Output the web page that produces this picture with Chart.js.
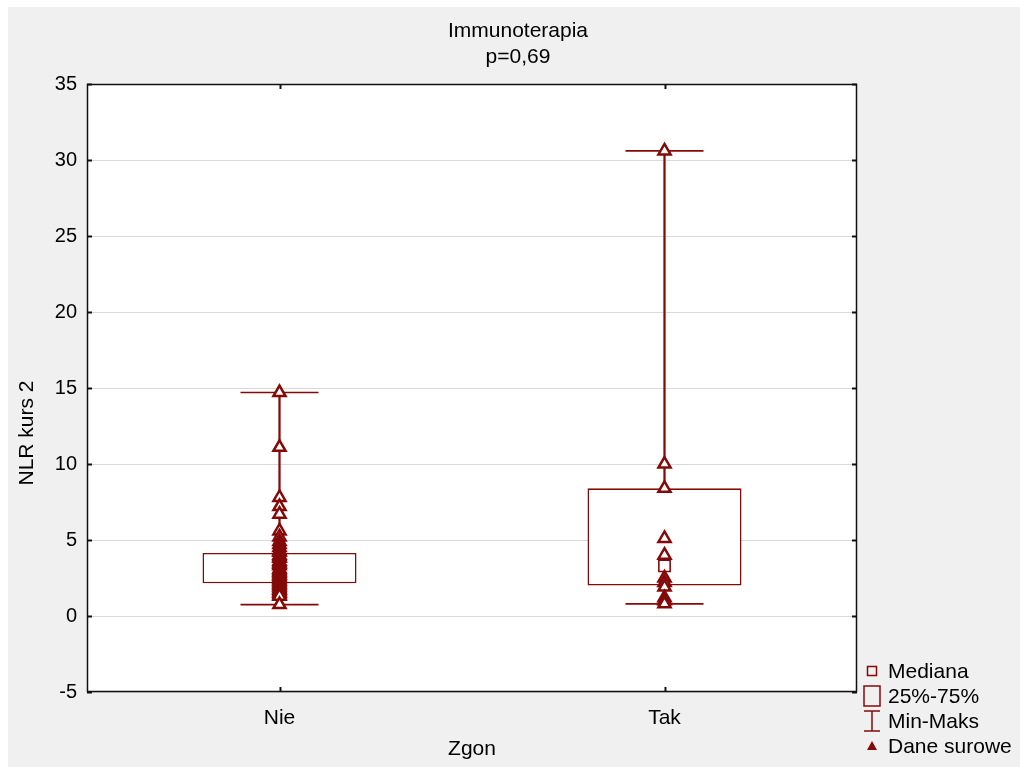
<!DOCTYPE html>
<html>
<head>
<meta charset="utf-8">
<script src="https://cdn.jsdelivr.net/npm/chart.js@4/dist/chart.umd.min.js"></script>
<style>
  html, body { margin: 0; padding: 0; background: #ffffff; }
  #wrap { position: relative; width: 1020px; height: 767px; }
</style>
</head>
<body>
<div id="wrap"><canvas id="c"></canvas></div>
<script>
// ---- data ----
const categories = ['Nie', 'Tak'];
const minVals = [0.75, 0.8];
const maxVals = [14.7, 30.6];
const q1Vals = [2.15, 2.0];
const q3Vals = [4.15, 8.4];
const medianVals = [2.9, 3.3];
const rawNie = [14.7, 11.1, 7.8, 7.2, 6.7, 5.6, 5.2, 4.9, 4.7, 4.5, 4.3, 4.2, 4.0, 3.9, 3.8, 3.6, 3.5, 3.4, 3.3, 3.1, 3.0, 2.9, 2.8, 2.7, 2.6, 2.5, 2.4, 2.3, 2.2, 2.1, 2.0, 1.9, 1.8, 1.7, 1.6, 1.5, 1.4, 1.3, 0.75];
const rawTak = [30.6, 10.0, 8.4, 5.1, 4.0, 2.5, 2.2, 1.9, 1.2, 1.0, 0.8];
const yMin = -5, yMax = 35, yStep = 5;
const titleLines = ['Immunoterapia', 'p=0,69'];
const xTitle = 'Zgon';
const yTitle = 'NLR kurs 2';
const legendLabels = ['Mediana', '25%-75%', 'Min-Maks', 'Dane surowe'];

const RED = '#840a0a';
const FONT = '"Liberation Sans", Arial, sans-serif';
const FS = 21;

const rawPoints = [];
rawNie.forEach(v => rawPoints.push({ x: categories[0], y: v }));
rawTak.forEach(v => rawPoints.push({ x: categories[1], y: v }));
const capPoints = [];
categories.forEach((c, i) => { capPoints.push({ x: c, y: minVals[i] }); capPoints.push({ x: c, y: maxVals[i] }); });
const medPoints = categories.map((c, i) => ({ x: c, y: medianVals[i] }));

const bgPlugin = {
  id: 'bg',
  beforeDraw(chart) {
    const ctx = chart.ctx;
    ctx.save();
    ctx.fillStyle = '#ffffff';
    ctx.fillRect(0, 0, chart.width, chart.height);
    ctx.fillStyle = '#f0f0f0';
    ctx.fillRect(8, 7, chart.width - 8, chart.height - 7);
    const a = chart.chartArea;
    ctx.fillStyle = '#ffffff';
    ctx.fillRect(a.left, a.top, a.right - a.left, a.bottom - a.top);
    ctx.restore();
  },
  afterDraw(chart) {
    const ctx = chart.ctx;
    const a = chart.chartArea;
    const ys = chart.scales.y, xs = chart.scales.x;
    ctx.save();
    // frame
    ctx.strokeStyle = '#111111';
    ctx.lineWidth = 1.5;
    ctx.strokeRect(a.left + 0.5, a.top + 0.5, a.right - a.left - 1, a.bottom - a.top - 1);
    // inner ticks
    ctx.lineWidth = 2;
    ctx.beginPath();
    ys.ticks.forEach(t => {
      const py = Math.round(ys.getPixelForValue(t.value)) + 0.5;
      ctx.moveTo(a.left, py); ctx.lineTo(a.left + 5, py);
      ctx.moveTo(a.right, py); ctx.lineTo(a.right - 5, py);
    });
    categories.forEach((c, i) => {
      const px = Math.round(xs.getPixelForValue(i)) + 0.5;
      ctx.moveTo(px, a.top); ctx.lineTo(px, a.top + 5);
      ctx.moveTo(px, a.bottom); ctx.lineTo(px, a.bottom - 5);
    });
    ctx.stroke();
    // title
    ctx.fillStyle = '#000000';
    ctx.font = FS + 'px ' + FONT;
    ctx.textAlign = 'center';
    ctx.textBaseline = 'middle';
    ctx.fillText(titleLines[0], 518, 31);
    ctx.fillText(titleLines[1], 518, 57);
    // y axis title
    ctx.save();
    ctx.translate(27, 433);
    ctx.rotate(-Math.PI / 2);
    ctx.fillText(yTitle, 0, 0);
    ctx.restore();
    // legend
    const lx = 872;
    const rows = [671, 696, 721, 746];
    ctx.strokeStyle = RED;
    ctx.fillStyle = RED;
    ctx.lineWidth = 1.5;
    ctx.strokeRect(lx - 4.5, rows[0] - 4.5, 9, 9);
    ctx.strokeRect(lx - 8, rows[1] - 10, 16, 20);
    ctx.beginPath();
    ctx.moveTo(lx - 8, rows[2] - 10); ctx.lineTo(lx + 8, rows[2] - 10);
    ctx.moveTo(lx, rows[2] - 10); ctx.lineTo(lx, rows[2] + 10);
    ctx.moveTo(lx - 8, rows[2] + 10); ctx.lineTo(lx + 8, rows[2] + 10);
    ctx.stroke();
    ctx.beginPath();
    ctx.moveTo(lx, rows[3] - 5); ctx.lineTo(lx + 5, rows[3] + 4); ctx.lineTo(lx - 5, rows[3] + 4); ctx.closePath();
    ctx.fill();
    ctx.fillStyle = '#000000';
    ctx.font = FS + 'px ' + FONT;
    ctx.textAlign = 'left';
    legendLabels.forEach((t, i) => ctx.fillText(t, 888, rows[i] + 1));
    ctx.restore();
  }
};

new Chart(document.getElementById('c'), {
  type: 'bar',
  data: {
    labels: categories,
    datasets: [
      {
        label: 'Min-Maks line',
        data: categories.map((c, i) => [minVals[i], maxVals[i]]),
        backgroundColor: RED,
        borderWidth: 0,
        barThickness: 1.6,
        grouped: false,
        order: 5
      },
      {
        label: '25%-75%',
        data: categories.map((c, i) => [q1Vals[i], q3Vals[i]]),
        backgroundColor: '#ffffff',
        borderColor: RED,
        borderWidth: 1.6,
        borderSkipped: false,
        barPercentage: 0.4,
        categoryPercentage: 1.0,
        grouped: false,
        order: 4
      },
      {
        type: 'scatter',
        label: 'Min-Maks caps',
        data: capPoints,
        pointStyle: 'line',
        radius: 39,
        borderColor: RED,
        borderWidth: 1.6,
        order: 3
      },
      {
        type: 'scatter',
        label: 'Mediana',
        data: medPoints,
        pointStyle: 'rect',
        radius: 8,
        backgroundColor: '#ffffff',
        borderColor: RED,
        borderWidth: 1.6,
        order: 2
      },
      {
        type: 'scatter',
        label: 'Dane surowe',
        data: rawPoints,
        pointStyle: 'triangle',
        radius: 7,
        backgroundColor: '#ffffff',
        borderColor: RED,
        borderWidth: 2.5,
        order: 1
      }
    ]
  },
  options: {
    responsive: true,
    maintainAspectRatio: false,
    animation: false,
    layout: { padding: { left: 0, right: 163, top: 84, bottom: 0 } },
    plugins: { legend: { display: false }, tooltip: { enabled: false }, title: { display: false } },
    scales: {
      x: {
        type: 'category',
        offset: true,
        grid: { display: false, drawTicks: false },
        border: { display: false },
        ticks: { color: '#000', font: { family: FONT, size: FS }, padding: 14 },
        title: { display: true, text: xTitle, color: '#000', font: { family: FONT, size: FS }, padding: { top: 0, bottom: 5 } },
        afterFit(s) { s.height = 75; }
      },
      y: {
        min: yMin, max: yMax,
        ticks: { stepSize: yStep, color: '#000', font: { family: FONT, size: 20 }, padding: 10 },
        grid: { color: '#d9d9d9', lineWidth: 1, drawTicks: false },
        border: { display: false },
        title: { display: false },
        afterFit(s) { s.width = 87; }
      }
    }
  },
  plugins: [bgPlugin]
});
</script>
</body>
</html>
